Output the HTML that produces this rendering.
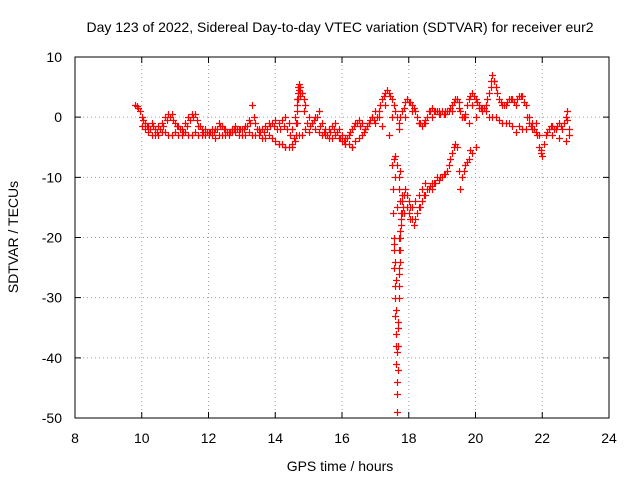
<!DOCTYPE html>
<html><head><meta charset="utf-8"><style>
body{margin:0;background:#fff;}
svg text{font-family:"Liberation Sans",sans-serif;font-size:14px;fill:#000;}
</style></head><body>
<svg id="chart" width="640" height="480" xmlns="http://www.w3.org/2000/svg">
<text x="340" y="32" text-anchor="middle">Day 123 of 2022, Sidereal Day-to-day VTEC variation (SDTVAR) for receiver eur2</text>
<text x="340" y="471" text-anchor="middle">GPS time / hours</text>
<text transform="translate(18,237) rotate(-90)" text-anchor="middle">SDTVAR / TECUs</text>
<g id="grid"></g><g id="ticks"></g><g id="marks"></g>
<rect x="75" y="57" width="534" height="361" fill="none" stroke="#000" stroke-width="1"/>
</svg>
<script>
const xTicks=[8,10,12,14,16,18,20,22,24];
const yTicks=[10,0,-10,-20,-30,-40,-50];
const timesA=[9.8,9.85,9.9,10.0,10.1,10.2,10.3,10.4,10.5,10.6,10.7,10.8,10.9,11.0,11.1,11.2,11.3,11.4,11.5,11.6,11.7,11.8,11.9,12.0,12.1,12.2,12.3,12.4,12.5,12.6,12.7,12.8,12.9,13.0,13.1,13.2,13.3,13.4,13.5,13.6,13.7,13.8,13.9,14.0,14.1,14.2,14.3,14.4,14.5,14.6,14.65,14.7,14.75,14.8,14.85,14.9,15.0,15.1,15.2,15.3,15.4,15.5,15.6,15.7,15.8,15.9,16.0,16.1,16.2,16.3,16.4,16.5,16.6,16.7,16.8,16.9,17.0,17.1,17.2,17.3,17.4,17.5,17.6,17.7,17.8,17.9,18.0,18.1,18.2,18.3,18.4,18.5,18.6,18.7,18.8,18.9,19.0,19.1,19.2,19.3,19.4,19.5,19.6,19.7,19.8,19.9,20.0,20.1,20.2,20.3,20.4,20.45,20.5,20.55,20.6,20.7,20.8,20.9,21.0,21.1,21.2,21.3,21.4,21.5,21.6,21.7,21.8,21.9,21.95,22.0,22.1,22.2,22.3,22.4,22.5,22.6,22.7,22.75,22.8];
const valuesA=[2,1.8,1.5,0,-1,-1.5,-1,-2,-1.5,-1,0,0.5,0.5,-1,-1.5,-2,-1,0,0.5,0.5,-1.5,-2,-2,-2.5,-2,-2,-1,-1.5,-2,-2.5,-2,-1.5,-2,-2,-1.5,-0.5,2,-1,-2,-2,-1.5,-1,-1,-0.5,-1,-0.5,0,-1,-2,0,3,5.5,5,4,3,2,0,-1,0,1,-1,-2,-2,-1.5,-1,-2,-3,-3.5,-3,-2,-1,-0.5,-1,-2,-1,0,-1,1,3,4,4,3,1,-1,1,2.5,2.5,2,1,-1,-1.5,-0.5,1,1.5,1,0.5,1,1,1,2,3,2.5,0,0.5,3,4,3,2,1.5,2,4,6,7,6,5,3,2,2,3,3,2,3.5,3.5,2,-1,-2,-2.5,-5,-6,-6.5,-3,-2,-1.5,-2,-1,-2,0,1,-2];
const timesB=[10.0,10.2,10.4,10.6,10.8,11.0,11.2,11.4,11.6,11.8,12.0,12.2,12.4,12.6,12.8,13.0,13.2,13.4,13.6,13.8,14.0,14.1,14.2,14.3,14.4,14.5,14.6,14.8,15.0,15.2,15.4,15.6,15.8,16.0,16.1,16.2,16.3,16.4,16.6,16.8,17.0,17.2,17.4,19.6,19.8,20.0,20.2,20.4,20.6,20.8,21.0,21.2,21.4,21.6,21.8,22.3,22.5,22.7,22.8];
const valuesB=[-1.5,-2.5,-3,-2.5,-3,-2.5,-3,-3,-2.5,-3,-3,-3.5,-3,-3,-2.5,-3,-2.5,-3,-3.5,-3,-4,-4.5,-4.5,-5,-5,-4.5,-4,-3,-2.5,-2,-3,-3.5,-3,-4,-4.5,-4.5,-5,-4,-3,-1,1,-1.5,-3,0,-1,0,1,0,0,-1,-1,-2.5,-2,0,-1,-3,-3.5,-4,-3];
const timesC=[9.95,10.05,10.15,10.25,10.35,10.45,10.55,10.65,10.75,10.85,10.95,11.05,11.15,11.25,11.35,11.45,11.55,11.65,11.75,11.85,11.95,12.05,12.15,12.25,12.35,12.45,12.55,12.65,12.75,12.85,12.95,13.05,13.15,13.25,13.35,13.45,13.55,13.65,13.75,13.85,13.95,14.05,14.15,14.25,14.35,14.45,14.55,14.65,14.75,14.85,14.95,15.05,15.15,15.25,15.35,15.45,15.55,15.65,15.75,15.85,15.95,16.05,16.15,16.25,16.35,16.45,16.55,16.65,16.75,16.85,16.95,17.05,17.15,17.25,17.35,17.45,17.55,17.65,17.75,17.85,17.95,18.05,18.15,18.25,18.35,18.45,18.55,18.65,18.75,18.85,18.95,19.05,19.15,19.25,19.35,19.45,19.55,19.65,19.75,19.85,19.95,20.05,20.15,20.25,20.35,20.45,20.55,20.65,20.75,20.85,20.95,21.05,21.15,21.25,21.35,21.45,21.55,21.65,21.75,21.85,21.95,22.05,22.15,22.25,22.35,22.45,22.55,22.65,22.75];
const valuesC=[1,-0.5,-1.5,-2,-1.5,-2.5,-2,-1.5,-0.5,0,-0.5,-1.5,-2,-2.5,-1.5,-0.5,0,-0.5,-1.5,-2.5,-2.5,-2.5,-2.5,-2,-1.5,-2,-2.5,-2.5,-2,-2,-2,-2,-1.5,-1,0,-2,-2.5,-2.5,-2,-1.5,-1.5,-2,-2,-1.5,-2,-3,-3.5,-1,4,1,-1,-1.5,-0.5,0,-1.5,-2.5,-3,-2.5,-2,-2.5,-3.5,-4,-3.5,-2.5,-1.5,-1,-1.5,-2.5,-1.5,-0.5,-0.5,0,2,3.5,4.5,3.5,2,0,0,1.5,3,2.5,1.5,0,-1,-1,0,1,1,1,0.5,0.5,1,1.5,2.5,3,1,0,2,3.5,3.5,2.5,1.5,1.5,3,5,6,4,2.5,2,2.5,3,2.5,3,3.5,2.5,0,-1.5,-2,-3,-5.5,-4.5,-2.5,-1.5,-2,-1.5,-1.5,-1,-0.5];
const timesD=[10.1,10.3,10.5,10.7,10.9,11.1,11.3,11.5,11.7,11.9,12.1,12.3,12.5,12.7,12.9,13.1,13.3,13.5,13.7,13.9,14.1,14.3,14.5,14.7,14.9,15.1,15.3,15.5,15.7,15.9,16.1,16.3,16.5,16.7,16.9,17.1,17.3,17.5,17.7,17.9,18.1,18.3,18.5,18.7,18.9,19.1,19.3,19.5,19.7,19.9,20.1,20.3,20.5,20.7,20.9,21.1,21.3,21.5,21.7,21.9];
const valuesD=[-2,-3,-3,-2.5,-3,-3,-2.5,-3,-3,-3,-3,-3,-3,-2.5,-3,-3,-3,-3,-3.5,-3.5,-4.5,-5,-5,-3,-2,-1,-2.5,-3,-3.5,-3.5,-4.5,-5,-3.5,-2,0,0,2,0,-2,0,1,-1,-1,0,1,0.5,1,1.5,0,2,1.5,1,0,-0.5,-1,-1.5,-1.5,-2,-1,-3];
const timesSpike=[14.62,14.63,14.64,14.66,14.67,14.68,14.69,14.71,14.73];
const valuesSpike=[-3,-1,1,2,3,4,5,4.5,3.5];
const timesDip=[17.5,17.52,17.54,17.55,17.56,17.57,17.58,17.59,17.6,17.61,17.62,17.63,17.64,17.65,17.66,17.67,17.68,17.69,17.7,17.71,17.72,17.73,17.74,17.75,17.76,17.78,17.8,17.82,17.55,17.6,17.65,17.7,17.75,17.6,17.65,17.7,17.72,17.75,17.57,17.59,17.61,17.63,17.66,17.68,17.7,17.72,17.74,17.77,17.79];
const valuesDip=[-8,-12,-16,-20,-22,-25,-28,-30,-33,-36,-38,-41,-44,-49,-46,-42,-38,-34,-30,-28,-26,-24,-22,-20,-18,-17,-16,-15,-7,-6.5,-15,-20,-14,-10,-8,-12,-10,-9,-21,-24,-27,-32,-39,-35,-25,-22,-19,-16,-13];
const timesRec=[17.8,17.85,17.9,17.95,18.0,18.05,18.1,18.15,18.2,18.3,18.4,18.5,18.6,18.7,18.8,18.9,19.0,19.1,19.2,19.3,19.35,19.4,19.45,19.5,19.55,19.6,19.65,19.7,19.8,19.9,20.0,18.0,18.1,18.2,18.3,18.4,18.5,18.6,18.7,17.85,17.95,18.05,18.25,18.35,18.45,18.55,18.65,18.75,18.85,18.95,19.05,19.15,19.25,19.75,19.85];
const valuesRec=[-14,-13,-12,-13,-14,-15,-17,-18,-17,-15,-14,-13,-12,-12,-11,-10.5,-10,-9.5,-8,-6,-5,-4.5,-5,-9,-12,-10,-9,-8,-7,-6,-5,-16,-15,-14,-13,-12,-11,-12,-11,-16,-15,-17,-16,-15,-13,-12,-11.5,-11,-10,-10,-9.5,-9,-7,-7.5,-5.5];
const X0=75,X1=609,Y0=418,Y1=57;
function xs(v){return X0+(v-8)/16*(X1-X0);}
function ys(v){return Y0-(v+50)/60*(Y0-Y1);}
const NS="http://www.w3.org/2000/svg";
const grid=document.getElementById('grid'),ticks=document.getElementById('ticks'),marks=document.getElementById('marks');
function mk(tag,attrs,parent){const e=document.createElementNS(NS,tag);for(const k in attrs)e.setAttribute(k,attrs[k]);parent.appendChild(e);return e;}
xTicks.forEach(t=>{const x=xs(t);
 if(t>8&&t<24){const g=mk('line',{x1:x,x2:x,y1:Y1,y2:Y0,stroke:'#a0a0a0','stroke-dasharray':'1,3'},grid);
 
 }
 const tk=mk('path',{d:`M${x},${Y0}v-6M${x},${Y1}v6`,stroke:'#000'},ticks);
 
 
 const l=mk('text',{x:x,y:443,'text-anchor':'middle'},ticks);l.textContent=t;
 
 });
yTicks.forEach(t=>{const y=ys(t);
 if(t>-50&&t<10){const g=mk('line',{x1:X0,x2:X1,y1:y,y2:y,stroke:'#a0a0a0','stroke-dasharray':'1,3'},grid);
 
 }
 const tk=mk('path',{d:`M${X0},${y}h6M${X1},${y}h-6`,stroke:'#000'},ticks);
 
 
 const l=mk('text',{x:62,y:y+5,'text-anchor':'end'},ticks);l.textContent=t;
 
 });
function plot(ts,vs){let d='';for(let i=0;i<ts.length;i++){const x=Math.round(xs(ts[i]))+0.5,y=Math.round(ys(vs[i]))+0.5;d+=`M${x-3.5},${y}h7M${x},${y-3.5}v7`;}
 const p=mk('path',{d:d,stroke:'#ff0000','stroke-width':1.2,fill:'none'},marks);
 
 }
plot(timesA,valuesA);plot(timesB,valuesB);plot(timesC,valuesC);plot(timesD,valuesD);plot(timesSpike,valuesSpike);plot(timesDip,valuesDip);plot(timesRec,valuesRec);
</script>
</body></html>
